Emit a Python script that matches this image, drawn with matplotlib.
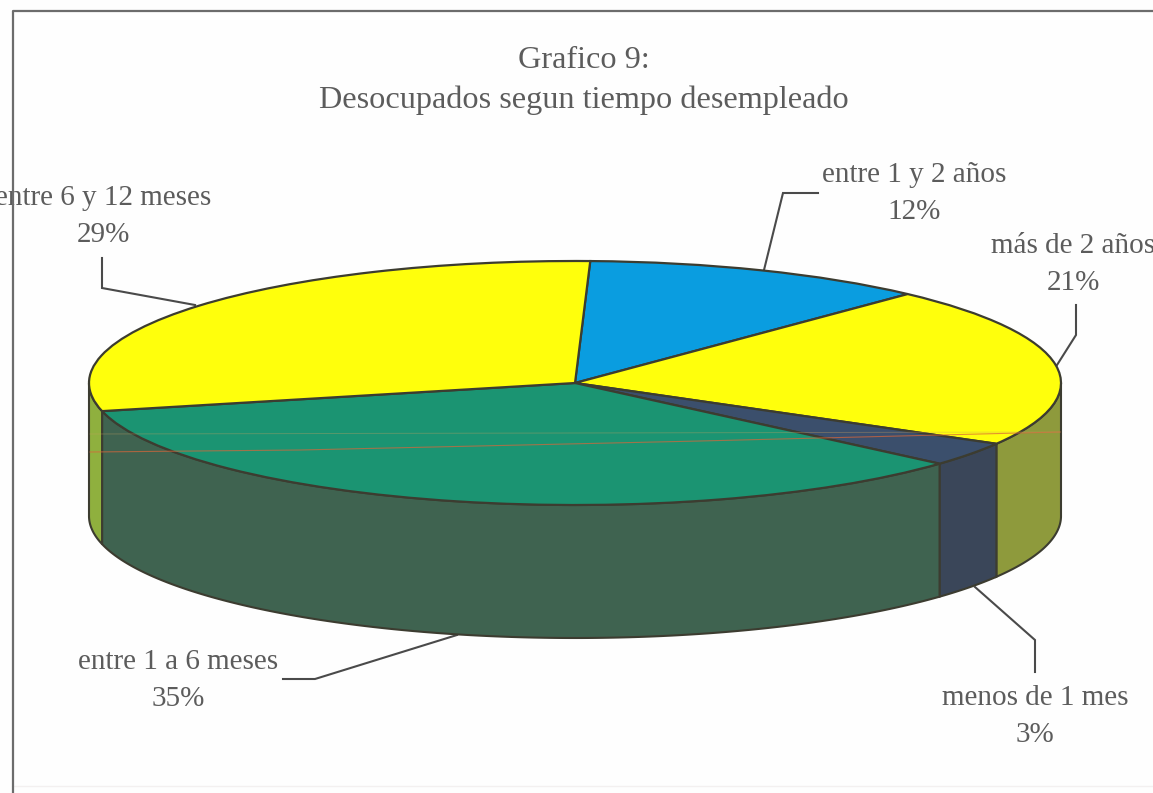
import numpy as np
import matplotlib
matplotlib.use('Agg')
import matplotlib.pyplot as plt
from matplotlib.transforms import Affine2D

categories = ['entre 1 y 2 años', 'más de 2 años', 'menos de 1 mes', 'entre 1 a 6 meses', 'entre 6 y 12 meses']
percent_labels = ['12%', '21%', '3%', '35%', '29%']
# slice sizes as measured on the picture, the printed labels are rounded
shares = [11.5, 21.3, 3.2, 34.8, 29.2]
top_colors = ['#0a9de0', '#ffff0c', '#3b4f6c', '#1b9472', '#ffff0c']
side_colors = ['#0a6a96', '#8e9a3c', '#3a4659', '#3f6350', '#8fb03e']
title_lines = ['Grafico 9:', 'Desocupados segun tiempo desempleado']

plt.rcParams['font.family'] = ['Liberation Serif', 'DejaVu Serif']
TXT = '#5c5c5c'
EDGE = '#3c3c30'

# everything is placed in picture pixels
fig = plt.figure(figsize=(11.53, 7.93), dpi=100, facecolor='#fefefe')
ax = fig.add_axes([0, 0, 1, 1])

# pie geometry
cx, cy, rx, ry, depth = 575, 383, 486, 122, 133
start = 1.8

wedges, _ = ax.pie(shares, colors=top_colors, startangle=90 - start, counterclock=False,
                   wedgeprops={'edgecolor': EDGE, 'linewidth': 1.6, 'zorder': 3})
ax.set_aspect('auto')
ax.set_xlim(0, 1153)
ax.set_ylim(793, 0)
ax.axis('off')
squash = Affine2D().scale(rx, -ry).translate(cx, cy) + ax.transData
for w in wedges:
    w.set_transform(squash)

# side wall, only the front half of the rim shows
edges = start + 360 * np.cumsum([0] + shares) / 100
for i in range(len(shares)):
    a = max(edges[i], 90)
    b = min(edges[i + 1], 270)
    if b <= a:
        continue
    t = np.radians(np.linspace(a, b, 200))
    x = cx + rx * np.sin(t)
    y = cy - ry * np.cos(t)
    ax.fill(np.r_[x, x[::-1]], np.r_[y, y[::-1] + depth], facecolor=side_colors[i],
            edgecolor=EDGE, linewidth=1.5, zorder=2)

# title
ax.text(584, 60, title_lines[0], fontsize=23.2, color=TXT, ha='center', va='center')
ax.text(584, 100, title_lines[1], fontsize=23.2, color=TXT, ha='center', va='center')

# labels and leader lines, two of the labels run off the page as in the scan
label_pos = [(914, 193), (1073, 264), (1035, 716), (178, 680), (103, 216)]
leaders = [[(818, 193), (783, 193), (764, 270)],
           [(1076, 305), (1076, 335), (1057, 365)],
           [(1035, 672), (1035, 640), (975, 587)],
           [(283, 679), (315, 679), (457, 635)],
           [(102, 258), (102, 288), (195, 305)]]
for name, pct, (lx, ly), pts in zip(categories, percent_labels, label_pos, leaders):
    ax.text(lx, ly - 18, name, fontsize=21, color=TXT, ha='center', va='center', zorder=5)
    ax.text(lx, ly + 19, pct, fontsize=21, color=TXT, ha='center', va='center', zorder=5)
    px, py = zip(*pts)
    ax.plot(px, py, color='#4a4a4a', lw=1.5, zorder=1.5, solid_joinstyle='miter')

# scan frame, right and bottom edges fall off the page
ax.plot([1153, 12.5, 12.5], [11, 11, 793], color='#6c6c6c', lw=1.6, zorder=6)
ax.plot([12, 1153], [786, 786], color='#f3f0f0', lw=1, zorder=1)

# thin red streak left by the scan
ax.plot([90, 300, 700, 1060], [452, 450, 441, 432], color='#d8663a', lw=0.8, alpha=0.7, zorder=4)
ax.plot([90, 1060], [434, 432], color='#c8a060', lw=0.7, alpha=0.35, zorder=4)

fig.savefig('out.png', dpi=100, facecolor=fig.get_facecolor())
